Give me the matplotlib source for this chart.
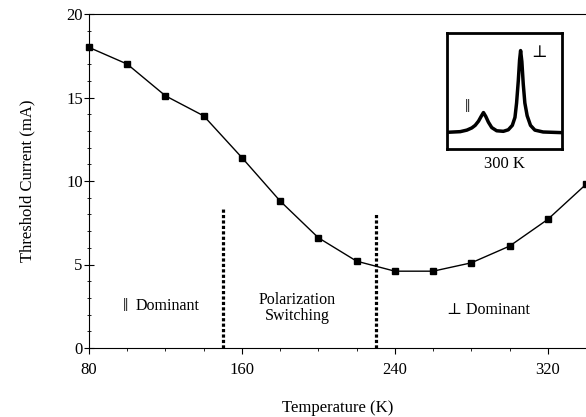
import numpy as np
from matplotlib import pyplot as plt
from matplotlib.ticker import MultipleLocator

plt.rcParams['font.family'] = ['Liberation Serif', 'DejaVu Serif']

# threshold current vs temperature
temp = [80, 100, 120, 140, 160, 180, 200, 220, 240, 260, 280, 300, 320, 340]
ith = [18.0, 17.0, 15.1, 13.9, 11.4, 8.8, 6.6, 5.2, 4.6, 4.6, 5.1, 6.1, 7.7, 9.8]

# boundaries of the switching region (K) and their heights (mA)
bound_t = [150, 230]
bound_h = [8.3, 8.0]

# inset spectrum at 300 K (arbitrary units)
spec_x = [0, 11.5, 17.3, 21.6, 24.5, 27.4, 29.7, 31.7, 33.7, 36.0, 38.9, 43.2,
          49.0, 53.3, 56.8, 59.1, 60.5, 62.0, 63.1, 64.0, 65.1, 66.3, 67.7,
          69.7, 72.6, 76.4, 83.6, 100]
spec_y = [10.1, 10.7, 12.1, 14.1, 16.4, 20.2, 24.5, 28.0, 24.5, 19.3, 14.4, 11.5,
          11.0, 12.4, 16.4, 23.6, 36.6, 56.8, 75.5, 84.1, 74.1, 53.9, 36.6,
          25.1, 16.4, 12.1, 10.4, 9.8]

fig = plt.figure(figsize=(5.86, 4.17), dpi=100)
ax = fig.add_axes([89/586, 1-348/417, 1-89/586, (348-14)/417])

ax.plot(temp, ith, color='black', lw=1, marker='s', ms=5, clip_on=False, zorder=3)
for t, h in zip(bound_t, bound_h):
    ax.plot([t, t], [0, h], color='black', lw=2.3, linestyle=(0, (1, 0.7)))

ax.text(99, 2.5, '\u2016', ha='center', va='center', fontsize=14)
ax.text(121, 2.5, 'Dominant', ha='center', va='center', fontsize=11.5)
ax.text(189, 2.4, 'Polarization\nSwitching', ha='center', va='center',
        fontsize=11.5, linespacing=1.0)
ax.text(289, 2.3, '\u22a5 Dominant', ha='center', va='center', fontsize=11.5)

ax.set_xlim(80, 340)
ax.set_ylim(0, 20)
ax.set_xticks([80, 160, 240, 320])
ax.set_yticks([0, 5, 10, 15, 20])
ax.xaxis.set_minor_locator(MultipleLocator(20))
ax.yaxis.set_minor_locator(MultipleLocator(1))
ax.tick_params(axis='x', which='both', direction='out', labelsize=12)
ax.tick_params(axis='x', which='major', length=4, pad=6)
ax.tick_params(axis='x', which='minor', length=2)
ax.tick_params(axis='y', which='major', direction='inout', length=7, labelsize=12, pad=1)
ax.tick_params(axis='y', which='minor', direction='inout', length=3)
ax.spines['right'].set_visible(False)
ax.set_xlabel('Temperature (K)', fontsize=12, labelpad=16)
ax.set_ylabel('Threshold Current (mA)', fontsize=12, labelpad=22)

# inset
ins = fig.add_axes([447/586, 1-149/417, 115/586, 116/417])
ins.plot(spec_x, spec_y, color='black', lw=2.5)
ins.set_xlim(0, 100)
ins.set_ylim(-5, 100)
ins.set_xticks([])
ins.set_yticks([])
for s in ins.spines.values():
    s.set_linewidth(2)
ins.text(18, 33, '\u2016', ha='center', va='center', fontsize=14)
ins.text(80, 82, '\u22a5', ha='center', va='center', fontsize=12)
ins.set_xlabel('300 K', fontsize=12, labelpad=5)

fig.savefig('out.png', dpi=100)
